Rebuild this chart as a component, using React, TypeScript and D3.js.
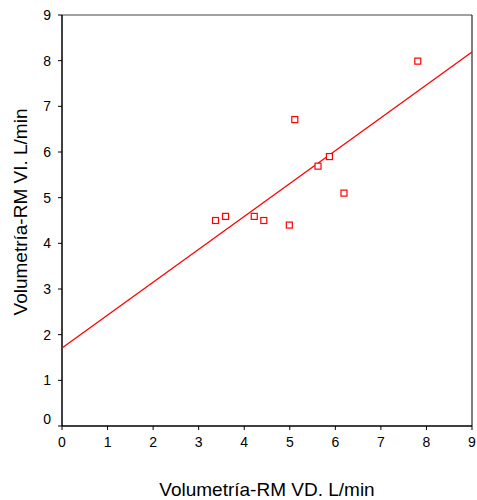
import React from "react";
import * as d3 from "d3";

const xValues = [3.37, 3.59, 4.22, 4.43, 4.99, 5.11, 5.62, 5.87, 6.19, 7.81];
const yValues = [4.5, 4.59, 4.59, 4.5, 4.4, 6.71, 5.69, 5.9, 5.1, 7.99];
const fitIntercept = 1.71;
const fitSlope = 0.72;
const ticks = [0, 1, 2, 3, 4, 5, 6, 7, 8, 9];

export default function App() {
  const W = 477, H = 500;
  const left = 62, right = 472, top = 15, bottom = 426;
  const x = d3.scaleLinear().domain([0, 9]).range([left, right]);
  const y = d3.scaleLinear().domain([0, 9]).range([bottom, top]);
  const font = "Liberation Sans, Arial, sans-serif";
  const line = d3.line<number>().x((d) => x(d)).y((d) => y(fitIntercept + fitSlope * d));
  return (
    <svg width={W} height={H} style={{ position: "absolute", left: 0, top: 0 }} fontFamily={font}>
      <rect x={0} y={0} width={W} height={H} fill="white" />
      <line x1={left} x2={right} y1={top} y2={top} stroke="#444" strokeWidth={1} />
      <line x1={right} x2={right} y1={top} y2={bottom} stroke="#000" strokeWidth={1} />
      <line x1={left} x2={left} y1={top} y2={bottom} stroke="#000" strokeWidth={1.5} />
      <line x1={left} x2={right} y1={bottom} y2={bottom} stroke="#000" strokeWidth={1.5} />
      {ticks.map((t) => (
        <g key={"y" + t}>
          <line x1={left - 4} x2={left} y1={y(t)} y2={y(t)} stroke="#000" />
          <text x={left - 11} y={y(t) - (t === 0 ? 7 : 0)} dy="0.35em" textAnchor="end" fontSize={14}>{t}</text>
        </g>
      ))}
      {ticks.map((t) => (
        <g key={"x" + t}>
          <line x1={x(t)} x2={x(t)} y1={bottom} y2={bottom + 4} stroke="#000" />
          <text x={x(t)} y={bottom + 20.5} textAnchor="middle" fontSize={14}>{t}</text>
        </g>
      ))}
      <path d={line([0, 9]) || ""} stroke="#f00" strokeWidth={1.3} fill="none" />
      {xValues.map((xv, i) => (
        <rect key={i} x={x(xv) - 3} y={y(yValues[i]) - 3} width={6} height={6} fill="white" stroke="#f00" strokeWidth={1.2} />
      ))}
      <text x={267} y={496} textAnchor="middle" fontSize={19}>Volumetría-RM VD. L/min</text>
      <text transform="translate(27,212) rotate(-90)" textAnchor="middle" fontSize={19}>Volumetría-RM VI. L/min</text>
    </svg>
  );
}
